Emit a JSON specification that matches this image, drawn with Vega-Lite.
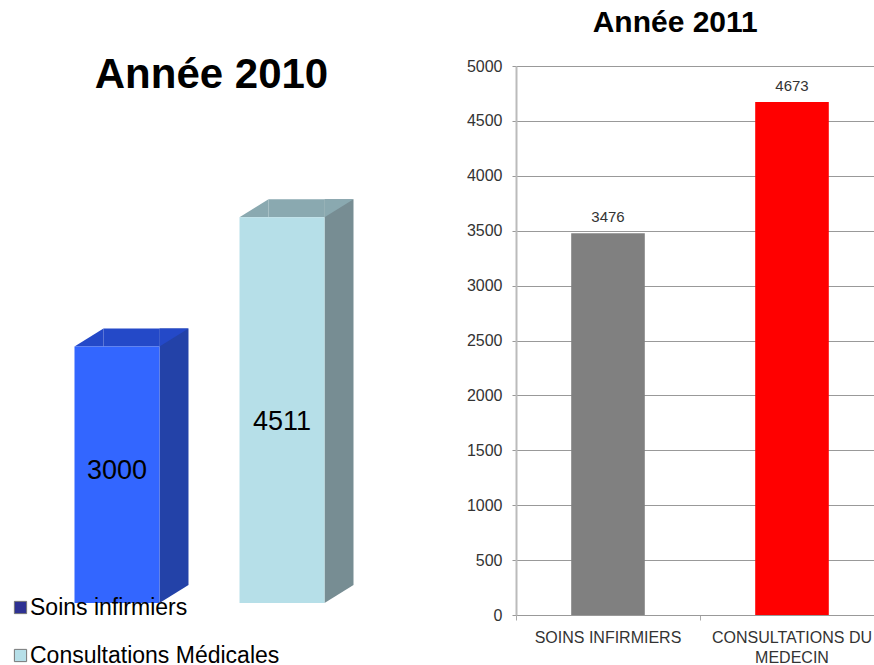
{
  "$schema": "https://vega.github.io/schema/vega-lite/v6.json",
  "background": "white",
  "padding": {"left": 0, "top": 8, "right": 0, "bottom": 0},
  "config": {"view": {"stroke": null}, "font": "Liberation Sans"},
  "datasets": {
    "y2010": [
      {"categorie": "Soins infirmiers", "valeur": 3000},
      {"categorie": "Consultations Médicales", "valeur": 4511}
    ],
    "y2011": [
      {"categorie": "SOINS INFIRMIERS", "valeur": 3476},
      {"categorie": "CONSULTATIONS DU MEDECIN", "valeur": 4673}
    ]
  },
  "spacing": 67,
  "resolve": {"scale": {"color": "independent", "x": "independent", "y": "independent"}},
  "hconcat": [
    {
      "width": 399,
      "height": 537,
      "data": {"name": "y2010"},
      "title": {"text": "Année 2010", "fontSize": 42, "fontWeight": "bold", "font": "Liberation Sans", "color": "#000000", "anchor": "middle", "dx": 12, "baseline": "alphabetic", "offset": -64},
      "encoding": {
        "x": {"field": "categorie", "type": "nominal", "sort": null, "axis": null, "scale": {"paddingInner": 0.485, "paddingOuter": 0.4515}}
      },
      "resolve": {"scale": {"color": "independent", "y": "independent"}},
      "layer": [
        {
          "mark": {"type": "point", "shape": "square", "filled": true, "opacity": 1, "size": 100, "yOffset": -60, "strokeWidth": 0},
          "encoding": {
            "y": {"datum": 0, "type": "quantitative", "scale": {"domain": [0, 6280]}, "axis": null},
            "color": {"field": "categorie", "type": "nominal", "scale": {"domain": ["Soins infirmiers", "Consultations Médicales"], "range": ["#2e3192", "#b6dfe8"]},
              "legend": {"title": null, "orient": "none", "legendX": 9, "legendY": 530, "symbolType": "square", "symbolSize": 150, "symbolStrokeColor": "#777777", "symbolStrokeWidth": 1, "labelFontSize": 23, "labelFont": "Liberation Sans", "labelColor": "#000000", "labelOffset": -2, "rowPadding": 24, "labelLimit": 400}}
          }
        },
        {
          "mark": {"type": "bar", "width": 29, "xOffset": 57, "yOffset": -18, "y2Offset": -18},
          "encoding": {
            "y": {"field": "valeur", "type": "quantitative", "scale": {"domain": [0, 6280]}, "axis": null},
            "color": {"field": "categorie", "type": "nominal", "scale": {"domain": ["Soins infirmiers", "Consultations Médicales"], "range": ["#2342a8", "#778d93"]}, "legend": null}
          }
        },
        {
          "mark": {"type": "point", "shape": "M-1,0.621L-1,-0.621L1,-0.621Z", "filled": true, "opacity": 1, "size": 841, "xOffset": 57, "yOffset": -9, "strokeWidth": 0},
          "encoding": {
            "y": {"datum": 0, "type": "quantitative", "scale": {"domain": [0, 6280]}, "axis": null},
            "color": {"field": "categorie", "type": "nominal", "scale": {"domain": ["Soins infirmiers", "Consultations Médicales"], "range": ["#2342a8", "#778d93"]}, "legend": null}
          }
        },
        {
          "mark": {"type": "bar", "width": 56, "xOffset": 14.5, "yOffset": -18},
          "encoding": {
            "y": {"field": "valeur", "type": "quantitative", "scale": {"domain": [0, 6280]}, "axis": null},
            "y2": {"field": "valeur"},
            "color": {"field": "categorie", "type": "nominal", "scale": {"domain": ["Soins infirmiers", "Consultations Médicales"], "range": ["#2449c8", "#8aa9b0"]}, "legend": null}
          }
        },
        {
          "mark": {"type": "point", "shape": "M-1,0.621L1,-0.621L1,0.621Z", "filled": true, "opacity": 1, "size": 841, "xOffset": -28, "yOffset": -9, "strokeWidth": 0},
          "encoding": {
            "y": {"field": "valeur", "type": "quantitative", "scale": {"domain": [0, 6280]}, "axis": null},
            "color": {"field": "categorie", "type": "nominal", "scale": {"domain": ["Soins infirmiers", "Consultations Médicales"], "range": ["#2449c8", "#8aa9b0"]}, "legend": null}
          }
        },
        {
          "mark": {"type": "point", "shape": "M-1,0.621L-1,-0.621L1,-0.621Z", "filled": true, "opacity": 1, "size": 841, "xOffset": 57, "yOffset": -9, "strokeWidth": 0},
          "encoding": {
            "y": {"field": "valeur", "type": "quantitative", "scale": {"domain": [0, 6280]}, "axis": null},
            "color": {"field": "categorie", "type": "nominal", "scale": {"domain": ["Soins infirmiers", "Consultations Médicales"], "range": ["#2449c8", "#8aa9b0"]}, "legend": null}
          }
        },
        {
          "mark": {"type": "bar", "width": 85},
          "encoding": {
            "y": {"field": "valeur", "type": "quantitative", "scale": {"domain": [0, 6280]}, "axis": null},
            "color": {"field": "categorie", "type": "nominal", "scale": {"domain": ["Soins infirmiers", "Consultations Médicales"], "range": ["#3366ff", "#b6dfe8"]}, "legend": null}
          }
        },
        {
          "mark": {"type": "text", "fontSize": 27, "font": "Liberation Sans", "color": "#000000", "baseline": "middle"},
          "encoding": {
            "y": {"field": "valeur", "type": "quantitative", "scale": {"domain": [-1045, 15412]}, "axis": null},
            "text": {"field": "valeur", "type": "quantitative", "format": "d"}
          }
        }
      ]
    },
    {
      "width": 368,
      "height": 549,
      "data": {"name": "y2011"},
      "title": {"text": "Année 2011", "fontSize": 30, "fontWeight": "bold", "font": "Liberation Sans", "color": "#000000", "anchor": "middle", "frame": "bounds", "baseline": "alphabetic", "offset": -4},
      "encoding": {
        "x": {"field": "categorie", "type": "nominal", "sort": null,
          "scale": {"paddingInner": 0.6, "paddingOuter": 0.3},
          "axis": {"title": null, "labelAngle": 0, "labelFontSize": 16, "labelFont": "Liberation Sans", "labelColor": "#333333",
            "labelExpr": "datum.label == 'CONSULTATIONS DU MEDECIN' ? ['CONSULTATIONS DU', 'MEDECIN'] : datum.label",
            "labelLineHeight": 20, "labelPadding": 9, "bandPosition": -0.75, "labelOverlap": false, "labelLimit": 0,
            "domainColor": "#999999", "tickColor": "#aaaaaa", "tickSize": 5}},
        "y": {"field": "valeur", "type": "quantitative",
          "scale": {"domain": [0, 5000]},
          "axis": {"title": null, "values": [0, 500, 1000, 1500, 2000, 2500, 3000, 3500, 4000, 4500, 5000], "format": "d",
            "labelFontSize": 16, "labelFont": "Liberation Sans", "labelColor": "#333333", "labelPadding": 10,
            "tickSize": 4, "tickColor": "#999999", "domainColor": "#bbbbbb", "domainWidth": 2, "gridColor": "#999999", "gridWidth": 1}}
      },
      "layer": [
        {
          "mark": {"type": "bar"},
          "encoding": {
            "color": {"field": "categorie", "type": "nominal", "scale": {"domain": ["SOINS INFIRMIERS", "CONSULTATIONS DU MEDECIN"], "range": ["#808080", "#ff0000"]}, "legend": null}
          }
        },
        {
          "mark": {"type": "text", "baseline": "bottom", "dy": -8, "fontSize": 15, "font": "Liberation Sans", "color": "#333333"},
          "encoding": {
            "text": {"field": "valeur", "type": "quantitative", "format": "d"}
          }
        }
      ]
    }
  ]
}
